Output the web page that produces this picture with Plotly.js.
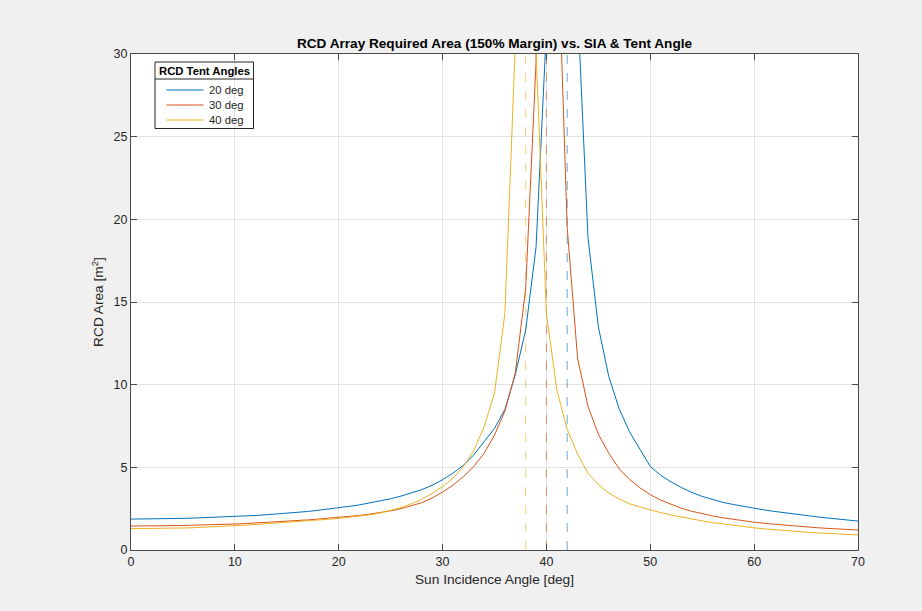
<!DOCTYPE html>
<html>
<head>
<meta charset="utf-8">
<script src="https://cdn.plot.ly/plotly-3.0.1.min.js"></script>
<style>
html,body{margin:0;padding:0;background:#f0f0f0;}
#chart{width:922px;height:611px;}
</style>
</head>
<body>
<div id="chart"></div>
<script>
// Sun incidence angle samples [deg]
const sia = [];
for (let a = 0; a <= 70; a++) sia.push(a);

const legendTitle = "RCD Tent Angles";
const seriesNames = ["20 deg", "30 deg", "40 deg"];
const seriesColors = ["#0072BD", "#D95319", "#EDB120"];

// RCD area [m^2], one value per degree 0..70
const area20 = [
  1.87, 1.87, 1.88, 1.89, 1.90, 1.91, 1.93, 1.95, 1.97, 2.00,
  2.03, 2.06, 2.09, 2.13, 2.17, 2.22, 2.27, 2.33, 2.40, 2.47,
  2.56, 2.64, 2.73, 2.84, 2.96, 3.10, 3.26, 3.44, 3.65, 3.92,
  4.25, 4.65, 5.12, 5.75, 6.55, 7.35, 8.50, 10.6, 13.3, 18.3,
  31.5, 120, 120, 33.0, 18.9, 13.5, 10.5, 8.55, 7.15, 6.10,
  5.05, 4.52, 4.12, 3.78, 3.48, 3.24, 3.04, 2.88, 2.75, 2.63,
  2.52, 2.42, 2.33, 2.24, 2.16, 2.08, 2.01, 1.94, 1.88, 1.81,
  1.75
];
const area30 = [
  1.45, 1.45, 1.46, 1.46, 1.47, 1.48, 1.50, 1.51, 1.53, 1.55,
  1.57, 1.60, 1.63, 1.66, 1.70, 1.74, 1.78, 1.82, 1.87, 1.92,
  1.97, 2.03, 2.09, 2.17, 2.26, 2.37, 2.50, 2.66, 2.86, 3.15,
  3.50, 3.92, 4.43, 5.05, 5.85, 6.95, 8.40, 10.7, 15.8, 29.5,
  150, 39.0, 19.5, 11.6, 8.70, 7.00, 5.85, 4.92, 4.27, 3.76,
  3.35, 3.02, 2.75, 2.52, 2.34, 2.19, 2.06, 1.95, 1.85, 1.76,
  1.68, 1.61, 1.55, 1.49, 1.44, 1.39, 1.35, 1.31, 1.27, 1.24,
  1.21
];
const area40 = [
  1.29, 1.29, 1.30, 1.31, 1.32, 1.33, 1.35, 1.37, 1.40, 1.43,
  1.47, 1.50, 1.54, 1.58, 1.62, 1.66, 1.71, 1.76, 1.81, 1.86,
  1.91, 1.97, 2.04, 2.13, 2.24, 2.38, 2.56, 2.80, 3.08, 3.42,
  3.83, 4.35, 5.03, 6.00, 7.45, 9.50, 14.3, 30.5, 300, 30.2,
  14.3, 9.70, 7.30, 5.80, 4.65, 3.95, 3.45, 3.08, 2.80, 2.60,
  2.42, 2.26, 2.12, 1.99, 1.87, 1.76, 1.66, 1.57, 1.49, 1.42,
  1.34, 1.28, 1.22, 1.17, 1.12, 1.08, 1.04, 1.00, 0.97, 0.94,
  0.91
];
const seriesValues = [area20, area30, area40];

// Critical angles drawn as dashed vertical markers
const criticalAngles = [42, 40, 38];

const xTicks = [0, 10, 20, 30, 40, 50, 60, 70];
const yTicks = [0, 5, 10, 15, 20, 25, 30];

const traces = [];
for (let i = 0; i < 3; i++) {
  traces.push({
    type: "scatter", mode: "lines",
    x: [criticalAngles[i], criticalAngles[i]], y: [yTicks[0], yTicks[yTicks.length - 1]],
    line: {color: seriesColors[i], width: 1, dash: "dash"},
    opacity: 0.6, showlegend: false, hoverinfo: "skip"
  });
}
for (let i = 0; i < 3; i++) {
  traces.push({
    type: "scatter", mode: "lines",
    name: seriesNames[i],
    x: sia, y: seriesValues[i],
    line: {color: seriesColors[i], width: 1},
    showlegend: false
  });
}

// Plot-area geometry (px) used to place the MATLAB-style legend box
const M = {l: 131, r: 64, t: 54, b: 61};
const PW = 922 - M.l - M.r, PH = 611 - M.t - M.b;
const px = v => (v - M.l) / PW;
const py = v => (611 - M.b - v) / PH;

const legBox = {x0: 155, x1: 253.5, y0: 62, y1: 128.5, sep: 79, titleY: 70.5};
const legRows = [90, 105, 120];
const legLine = [166.5, 203.5];
const legTextX = 207;

const shapes = [
  {type: "rect", xref: "paper", yref: "paper", layer: "above",
   x0: px(legBox.x0), x1: px(legBox.x1), y0: py(legBox.y1), y1: py(legBox.y0),
   line: {color: "#262626", width: 1}, fillcolor: "rgba(0,0,0,0)"},
  {type: "line", xref: "paper", yref: "paper", layer: "above",
   x0: px(legBox.x0), x1: px(legBox.x1), y0: py(legBox.sep), y1: py(legBox.sep),
   line: {color: "#262626", width: 1}}
];
const annotations = [
  {xref: "paper", yref: "paper", x: px((legBox.x0 + legBox.x1) / 2), y: py(legBox.titleY),
   text: "<b>" + legendTitle + "</b>", showarrow: false, xanchor: "center", yanchor: "middle",
   font: {size: 11.3, color: "#000000"}}
];
for (let i = 0; i < seriesNames.length; i++) {
  shapes.push({type: "line", xref: "paper", yref: "paper", layer: "above",
    x0: px(legLine[0]), x1: px(legLine[1]), y0: py(legRows[i]), y1: py(legRows[i]),
    line: {color: seriesColors[i], width: 1}});
  annotations.push({xref: "paper", yref: "paper", x: px(legTextX), y: py(legRows[i]),
    text: seriesNames[i], showarrow: false, xanchor: "left", yanchor: "middle",
    font: {size: 11.3, color: "#262626"}});
}

const axisCommon = {
  showline: true, linecolor: "#4a4a4a", linewidth: 1,
  mirror: "ticks", ticks: "inside", ticklen: 6, tickcolor: "#4a4a4a", tickwidth: 1,
  showgrid: true, gridcolor: "#e3e3e3", gridwidth: 1,
  zeroline: false,
  tickfont: {family: "Liberation Sans, Arial, sans-serif", size: 12.5, color: "#262626"}
};

const layout = {
  width: 922, height: 611,
  paper_bgcolor: "#f0f0f0", plot_bgcolor: "#ffffff",
  margin: M,
  font: {family: "Liberation Sans, Arial, sans-serif", color: "#262626"},
  title: {
    text: "<b>RCD Array Required Area (150% Margin) vs. SIA & Tent Angle</b>",
    font: {size: 13.6, color: "#000000"},
    x: 0.5, xref: "paper", xanchor: "center",
    y: 1, yref: "paper", yanchor: "bottom", pad: {b: 6}
  },
  xaxis: Object.assign({}, axisCommon, {
    range: [0, 70], tickvals: xTicks, ticktext: xTicks.map(String),
    title: {text: "Sun Incidence Angle [deg]", font: {size: 13.7, color: "#262626"}, standoff: 6}
  }),
  yaxis: Object.assign({}, axisCommon, {
    range: [0, 30], tickvals: yTicks, ticktext: yTicks.map(String),
    title: {text: "RCD Area [m<sup>2</sup>]", font: {size: 13.7, color: "#262626"}, standoff: 6}
  }),
  showlegend: false,
  shapes: shapes,
  annotations: annotations
};

Plotly.newPlot("chart", traces, layout, {displayModeBar: false, staticPlot: true});
</script>
</body>
</html>
